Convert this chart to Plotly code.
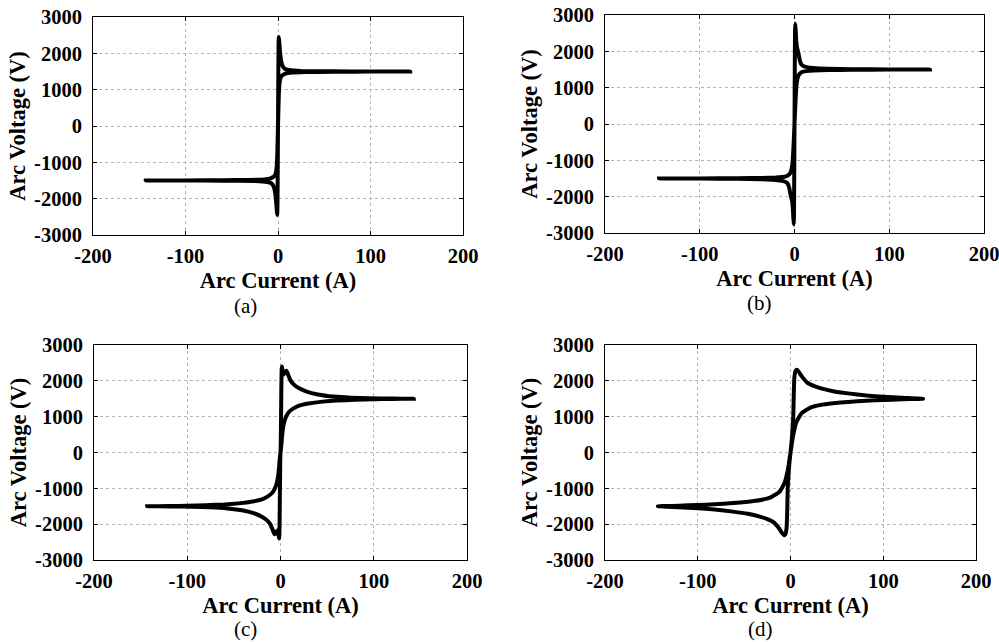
import plotly.graph_objects as go

# Arc V-I hysteresis loops (closed paths, A / V)
current_a = [143, 100, 60, 30, 15, 8, 4, 2.5, 1.5, 0.8, 0.3, 0,
             -0.2, -0.4, -0.6, -0.8, -1.2, -2, -3, -4.5, -7, -12, -25, -60, -100, -143,
             -100, -60, -30, -15, -8, -4, -2.5, -1.5, -0.8, -0.3, 0,
             0.2, 0.4, 0.6, 0.8, 1.2, 2, 3, 4.5, 7, 12, 25, 60, 100, 143]
voltage_a = [1500, 1497, 1493, 1485, 1470, 1440, 1380, 1300, 1150, 800, 300, 0,
             -800, -1600, -2200, -2450, -2350, -2100, -1850, -1680, -1580, -1540, -1515, -1505, -1502, -1500,
             -1497, -1493, -1485, -1470, -1440, -1380, -1300, -1150, -800, -300, 0,
             800, 1600, 2200, 2450, 2350, 2100, 1850, 1680, 1580, 1540, 1515, 1505, 1502, 1500]

current_b = [143, 100, 60, 35, 20, 13, 9, 6.5, 5, 4, 3, 2, 1.2, 0.5, 0,
             -0.2, -0.4, -0.6, -0.8, -1.2, -1.8, -2.5, -3.5, -4.5, -5.5, -7, -9, -13, -20, -35, -60, -100, -143,
             -100, -60, -35, -20, -13, -9, -6.5, -5, -4, -3, -2, -1.2, -0.5, 0,
             0.2, 0.4, 0.6, 0.8, 1.2, 1.8, 2.5, 3.5, 4.5, 5.5, 7, 9, 13, 20, 35, 60, 100, 143]
voltage_b = [1500, 1497, 1492, 1485, 1475, 1460, 1440, 1410, 1370, 1320, 1230, 1050, 700, 300, 0,
             -1000, -2000, -2600, -2760, -2600, -2300, -2120, -2020, -1900, -1760, -1650, -1600, -1565, -1540, -1520, -1510, -1503, -1500,
             -1497, -1492, -1485, -1475, -1460, -1440, -1410, -1370, -1320, -1230, -1050, -700, -300, 0,
             1000, 2000, 2600, 2760, 2600, 2300, 2120, 2020, 1900, 1760, 1650, 1600, 1565, 1540, 1520, 1510, 1503, 1500]

current_c = [143, 120, 100, 80, 60, 45, 30, 20, 14, 9, 6, 4, 2.5, 1.5, 0.7, 0,
             -0.3, -0.6, -0.9, -1.2, -1.5, -2.5, -3.5, -5, -6.5, -8.5, -11, -15, -20, -28, -40, -57, -75, -95, -120, -143,
             -120, -100, -80, -60, -45, -30, -20, -14, -9, -6, -4, -2.5, -1.5, -0.7, 0,
             0.3, 0.6, 0.9, 1.2, 1.5, 2.5, 3.5, 5, 6.5, 8.5, 11, 15, 20, 28, 40, 57, 75, 95, 120, 143]
voltage_c = [1500, 1495, 1485, 1470, 1450, 1420, 1370, 1310, 1230, 1130, 1000, 850, 650, 400, 150, 0,
             -300, -1000, -1800, -2300, -2400, -2250, -2180, -2250, -2280, -2150, -2000, -1880, -1790, -1700, -1620, -1560, -1530, -1515, -1505, -1500,
             -1495, -1485, -1470, -1450, -1420, -1370, -1310, -1230, -1130, -1000, -850, -650, -400, -150, 0,
             300, 1000, 1800, 2300, 2400, 2250, 2180, 2250, 2280, 2150, 2000, 1880, 1790, 1700, 1620, 1560, 1530, 1515, 1505, 1500]

current_d = [143, 120, 100, 82, 62, 46, 32, 22, 17, 12, 8.5, 6, 4.5, 3, 2, 1, 0,
             -1, -2, -3, -3.5, -4.2, -5.5, -7, -9, -12, -18, -25, -33, -46, -62, -82, -100, -120, -143,
             -120, -100, -82, -62, -46, -32, -22, -17, -12, -8.5, -6, -4.5, -3, -2, -1, 0,
             1, 2, 3, 3.5, 4.2, 5.5, 7, 9, 12, 18, 25, 33, 46, 62, 82, 100, 120, 143]
voltage_d = [1500, 1485, 1465, 1445, 1410, 1375, 1326, 1260, 1186, 1100, 954, 820, 675, 500, 350, 170, 0,
             -250, -550, -1000, -1600, -2100, -2280, -2310, -2250, -2130, -1950, -1860, -1790, -1710, -1650, -1590, -1555, -1525, -1500,
             -1485, -1465, -1445, -1410, -1375, -1326, -1260, -1186, -1100, -954, -820, -675, -500, -350, -170, 0,
             250, 550, 1000, 1600, 2100, 2280, 2310, 2250, 2130, 1950, 1860, 1790, 1710, 1650, 1590, 1555, 1525, 1500]

x_ticks = [-200, -100, 0, 100, 200]
x_tick_text = ["-200", "-100", "0", "100", "200"]
y_ticks = [-3000, -2000, -1000, 0, 1000, 2000, 3000]
y_tick_text = ["-3000", "-2000", "-1000", "0", "1000", "2000", "3000"]
captions = ["(a)", "(b)", "(c)", "(d)"]

FONT = "Liberation Serif"
W, H = 999, 642

# plot boxes in pixels: (left, right, top, bottom)
boxes = [(93, 463, 17, 235), (605, 984, 15, 233),
         (94, 467, 345, 560), (605, 976, 345, 560)]
caption_xy = [(245, 306), (759, 303), (245, 629), (760, 629)]

fig = go.Figure()
layout = dict(width=W, height=H, margin=dict(l=0, r=0, t=0, b=0),
              paper_bgcolor="white", plot_bgcolor="white", showlegend=False,
              template="none", font=dict(family=FONT, color="black"))

data = [(current_a, voltage_a), (current_b, voltage_b),
        (current_c, voltage_c), (current_d, voltage_d)]

for i, ((cx, cy), (l, r, t, b)) in enumerate(zip(data, boxes)):
    n = "" if i == 0 else str(i + 1)
    fig.add_trace(go.Scatter(x=cx, y=cy, mode="lines",
                             line=dict(color="black", width=4, shape="spline", smoothing=0.3),
                             xaxis="x" + n, yaxis="y" + n, hoverinfo="skip"))
    common = dict(showline=True, linecolor="black", linewidth=1, mirror="ticks",
                  ticks="inside", ticklen=4, tickcolor="black", automargin=False,
                  showgrid=True, gridcolor="#b5b5b5", griddash="dot", gridwidth=1,
                  zeroline=False, ticklabeloverflow="allow",
                  tickfont=dict(family=FONT, size=20.5, color="black"))
    layout["xaxis" + n] = dict(common, domain=[l / W, r / W], anchor="y" + n,
                               range=[-200, 200], tickvals=x_ticks, ticklabelstandoff=2,
                               ticktext=["<b>%s</b>" % s for s in x_tick_text],
                               title=dict(text="<b>Arc Current (A)</b>", standoff=6,
                                          font=dict(family=FONT, size=22.5, color="black")))
    layout["yaxis" + n] = dict(common, domain=[1 - b / H, 1 - t / H], anchor="x" + n,
                               range=[-3000, 3000], tickvals=y_ticks, ticklabelstandoff=6,
                               ticktext=["<b>%s</b>" % s for s in y_tick_text],
                               title=dict(text="<b>Arc Voltage (V)</b>", standoff=2,
                                          font=dict(family=FONT, size=22.5, color="black")))

fig.update_layout(**layout)

for text, (px, py) in zip(captions, caption_xy):
    fig.add_annotation(text=text, x=px / W, y=1 - py / H, xref="paper", yref="paper",
                       showarrow=False, xanchor="center", yanchor="middle",
                       font=dict(family=FONT, size=21, color="black"))

# drop the page's default body margin so the figure fills the window
fig.write_html("out.html", config={"displayModeBar": False},
               post_script="document.body.style.margin = '0';")
